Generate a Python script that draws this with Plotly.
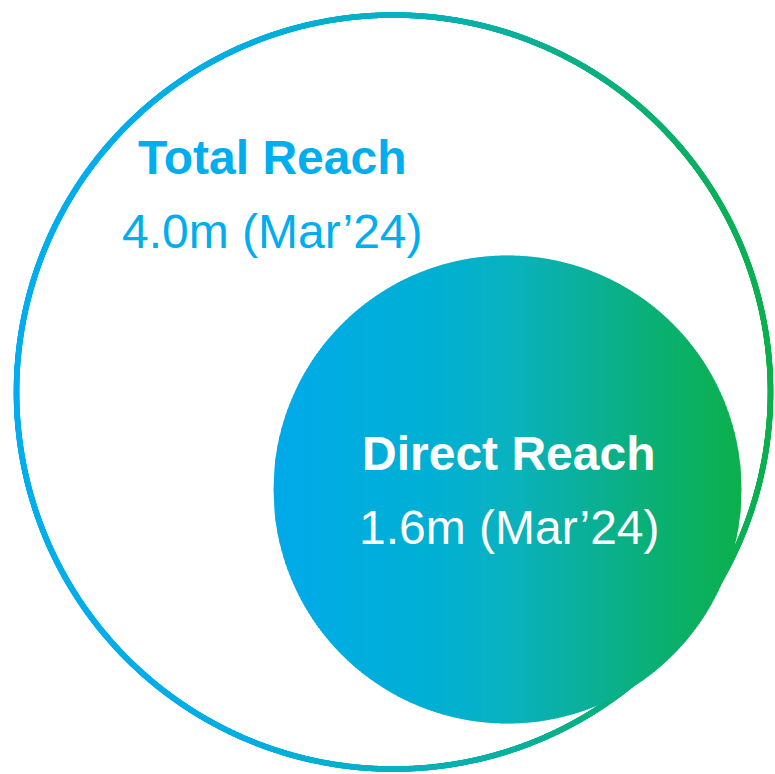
import numpy as np
import plotly.graph_objects as go

# ---- data ----
labels = ["Total Reach", "Direct Reach"]
values = ["4.0m (Mar\u201924)", "1.6m (Mar\u201924)"]
reach_m = [4.0, 1.6]

# ---- geometry / style (pixel-like axis units) ----
W, H = 775, 774
big_cx, big_cy, big_r = 393.5, 392.0, 377.0
small_cx, small_cy, small_r = 507.5, 489.5, 234.0

ring_stops = [(0.0, (0, 174, 239)), (0.3, (0, 174, 226)), (0.5, (8, 178, 192)),
              (0.72, (10, 176, 140)), (1.0, (12, 176, 78))]
fill_stops = [(0.0, (0, 170, 234)), (0.33, (0, 176, 212)), (0.5, (10, 178, 192)),
              (0.67, (10, 176, 152)), (0.83, (10, 176, 112)), (1.0, (12, 176, 76))]


def grad(stops, t):
    t = min(max(t, 0.0), 1.0)
    for (t0, c0), (t1, c1) in zip(stops[:-1], stops[1:]):
        if t <= t1:
            f = (t - t0) / (t1 - t0) if t1 > t0 else 0
            return tuple(c0[i] + (c1[i] - c0[i]) * f for i in range(3))
    return stops[-1][1]


def rgb(c):
    return "rgb(%d,%d,%d)" % tuple(int(round(v)) for v in c)


fig = go.Figure()

# big ring as dense markers with x-based gradient
th = np.linspace(0, 2 * np.pi, 3600, endpoint=False)
rx = big_cx + big_r * np.cos(th)
ry = big_cy + big_r * np.sin(th)
tvals = (rx - (big_cx - big_r)) / (2 * big_r)
cols = [rgb(grad(ring_stops, t)) for t in tvals]
fig.add_trace(go.Scatter(x=rx, y=ry, mode="markers",
                         marker=dict(size=5.6, color=cols, line=dict(width=0)),
                         hoverinfo="skip", showlegend=False))

# small circle as vertical gradient strips
shapes = []
n = 240
x0 = small_cx - small_r
step = 2 * small_r / n
for i in range(n):
    a = x0 + i * step
    b = min(a + step + 0.8, small_cx + small_r)
    xs = np.linspace(a, b, 4)
    hs = np.sqrt(np.clip(small_r ** 2 - (xs - small_cx) ** 2, 0, None))
    pts = [(x, small_cy - h) for x, h in zip(xs, hs)] + \
          [(x, small_cy + h) for x, h in zip(xs[::-1], hs[::-1])]
    path = "M " + " L ".join("%.3f,%.3f" % p for p in pts) + " Z"
    c = rgb(grad(fill_stops, (a + step / 2 - x0) / (2 * small_r)))
    shapes.append(dict(type="path", path=path, xref="x", yref="y",
                       fillcolor=c, line=dict(width=0), layer="above"))

font_name = "Liberation Sans, Arial, sans-serif"
blue = "#00AEEF"
annotations = [
    dict(x=272, y=157, text="<b>%s</b>" % labels[0], font=dict(size=48, color=blue, family=font_name)),
    dict(x=272.5, y=231, text=values[0], font=dict(size=48, color=blue, family=font_name)),
    dict(x=508, y=453, text="<b>%s</b>" % labels[1], font=dict(size=48, color="white", family=font_name)),
    dict(x=509.5, y=527, text=values[1], font=dict(size=48, color="white", family=font_name)),
]
for a in annotations:
    a.update(xref="x", yref="y", showarrow=False, xanchor="center", yanchor="middle")

fig.update_layout(
    width=W, height=H, margin=dict(l=0, r=0, t=0, b=0),
    paper_bgcolor="white", plot_bgcolor="white",
    xaxis=dict(range=[0, W], visible=False, fixedrange=True),
    yaxis=dict(range=[H, 0], visible=False, fixedrange=True),
    shapes=shapes, annotations=annotations, showlegend=False,
)
fig.write_html("out.html", config={"displayModeBar": False},
               post_script="document.body.style.margin='0px';document.body.style.overflow='hidden';")
